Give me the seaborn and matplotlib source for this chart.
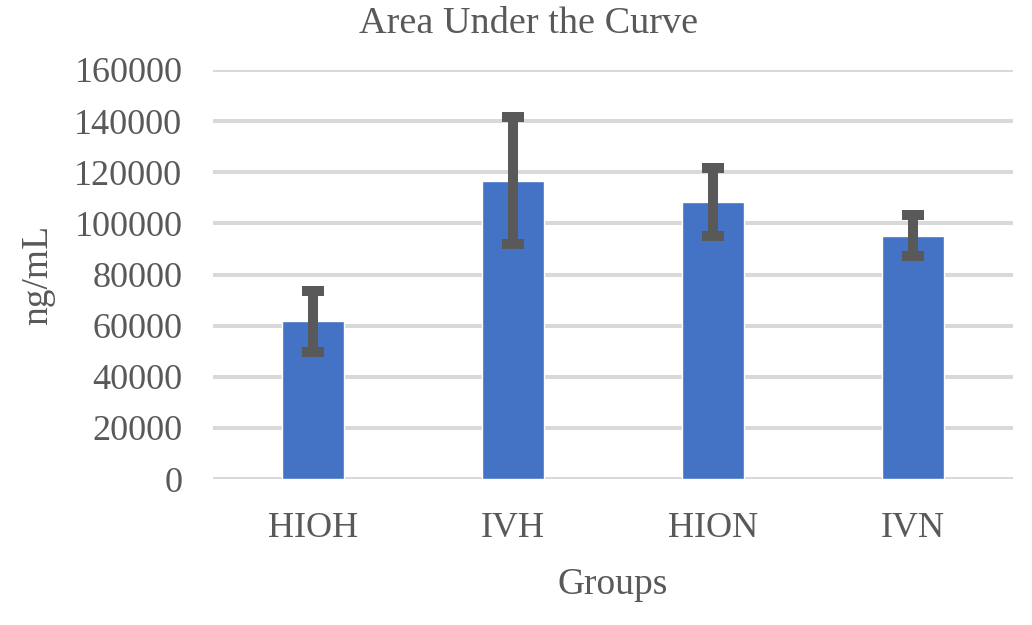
import numpy as np
import pandas as pd
import matplotlib
matplotlib.use("Agg")
import matplotlib.pyplot as plt
import seaborn as sns

groups = ["HIOH", "IVH", "HION", "IVN"]
auc_mean = [61700, 116700, 108400, 95100]
auc_err = [12000, 24900, 13200, 8000]

sns.set_theme(style="white")
plt.rcParams['font.family'] = ['Liberation Serif', 'DejaVu Serif']

text_col = '#595959'
df = pd.DataFrame({"group": groups, "auc": auc_mean, "err": auc_err})

fig = plt.figure(figsize=(10.32, 6.25), dpi=100)
ax = fig.add_axes([0.2064, 0.2336, 0.7752, 0.6544])

sns.barplot(data=df, x="group", y="auc", color="#4472C4", width=0.31,
            errorbar=None, saturation=1, ax=ax, zorder=2)
ax.errorbar(np.arange(len(groups)), df["auc"], yerr=df["err"], fmt='none',
            ecolor='#595959', elinewidth=7.2, capsize=8, capthick=7.2, zorder=3)

ax.set_ylim(0, 160000)
ax.set_xlim(-0.5, 3.5)
ax.set_yticks(np.arange(0, 160001, 20000))
ax.yaxis.grid(True, color='#D9D9D9', linewidth=2.9, zorder=0)
ax.set_axisbelow(True)
for s in ax.spines.values():
    s.set_visible(False)
ax.tick_params(axis='both', length=0, labelsize=26, labelcolor=text_col)
ax.tick_params(axis='y', pad=22)
ax.tick_params(axis='x', pad=24)

ax.set_xlabel("Groups", fontsize=27, color=text_col, labelpad=16)
ax.set_ylabel("ng/mL", fontsize=27, color=text_col, labelpad=14)
fig.text(0.512, 0.962, "Area Under the Curve", ha='center', va='center',
         fontsize=27.5, color=text_col)

fig.savefig("out.png", dpi=100)
